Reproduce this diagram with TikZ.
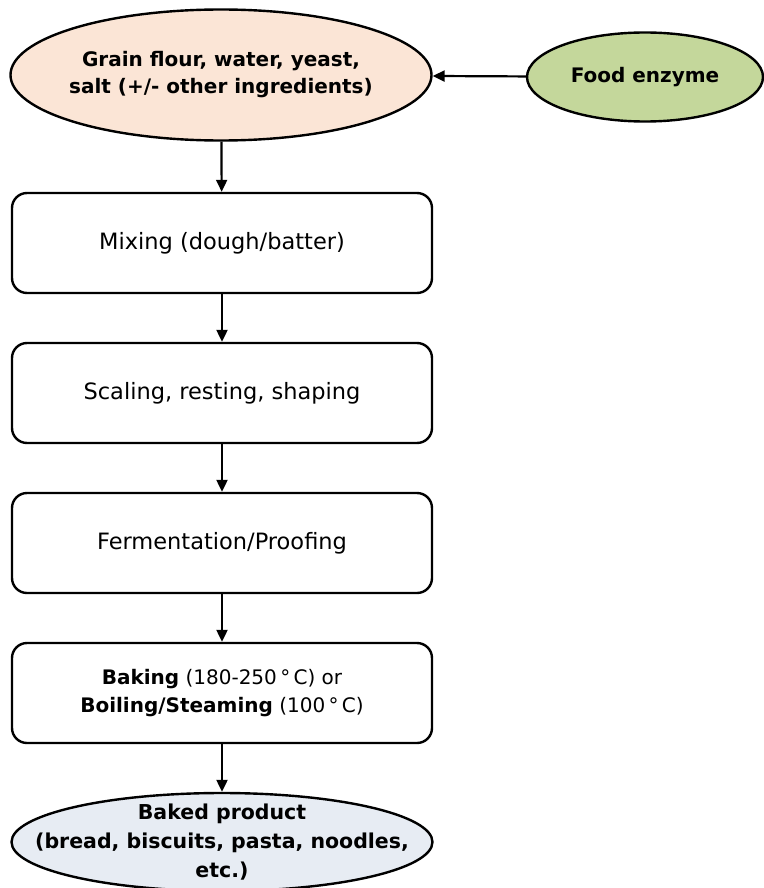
\documentclass[tikz,border=0pt]{standalone}
\usepackage{fontspec}
\setmainfont{DejaVu Sans}
\usetikzlibrary{shapes.geometric, arrows.meta, positioning}
\definecolor{grainpeach}{RGB}{251, 229, 214}
\definecolor{enzgreen}{RGB}{196, 215, 155}
\definecolor{prodblue}{RGB}{231, 236, 243}

\begin{document}
\begin{tikzpicture}[x=1pt, y=-1pt,
  stepbox/.style={draw, line width=2.4pt, rounded corners=15pt, minimum width=420pt, minimum height=100pt, align=center, inner sep=0pt, font=\fontsize{22.5}{28}\selectfont},
  oval/.style={draw, ellipse, line width=2.4pt, inner sep=0pt},
  ovaltext/.style={align=center, font=\bfseries\fontsize{20}{27}\selectfont},
  flow/.style={-{Triangle[length=12pt, width=11pt]}, line width=2.2pt}
]
  \useasboundingbox (0,0) rectangle (763,888);
  % inputs
  \node[oval, fill=grainpeach, minimum width=421pt, minimum height=131pt,
    label={[ovaltext]center:Grain flour, water, yeast,\\salt (+/- other ingredients)}] (grain) at (221,75) {};
  \node[oval, fill=enzgreen, minimum width=236pt, minimum height=89pt,
    label={[ovaltext]center:Food enzyme}] (enzyme) at (645,77) {};
  % process steps
  \node[stepbox] (mixing) at (222,243) {Mixing (dough/batter)};
  \node[stepbox] (scaling) at (222,393) {Scaling, resting, shaping};
  \node[stepbox] (ferment) at (222,543) {Fermentation/Proofing};
  \node[stepbox, font=\fontsize{20}{28}\selectfont] (baking) at (222,693) {\textbf{Baking} (180-250\,°\,C) or\\\textbf{Boiling/Steaming} (100\,°\,C)};
  % output
  \node[oval, fill=prodblue, minimum width=421pt, minimum height=98pt,
    label={[ovaltext, font=\bfseries\fontsize{20.5}{29}\selectfont]center:Baked product\\(bread, biscuits, pasta, noodles,\\etc.)}] (product) at (222,842) {};
  % connectors
  \draw[flow] (enzyme) -- (grain);
  \draw[flow] (grain) -- (mixing);
  \draw[flow] (mixing) -- (scaling);
  \draw[flow] (scaling) -- (ferment);
  \draw[flow] (ferment) -- (baking);
  \draw[flow] (baking) -- (product);
\end{tikzpicture}
\end{document}
